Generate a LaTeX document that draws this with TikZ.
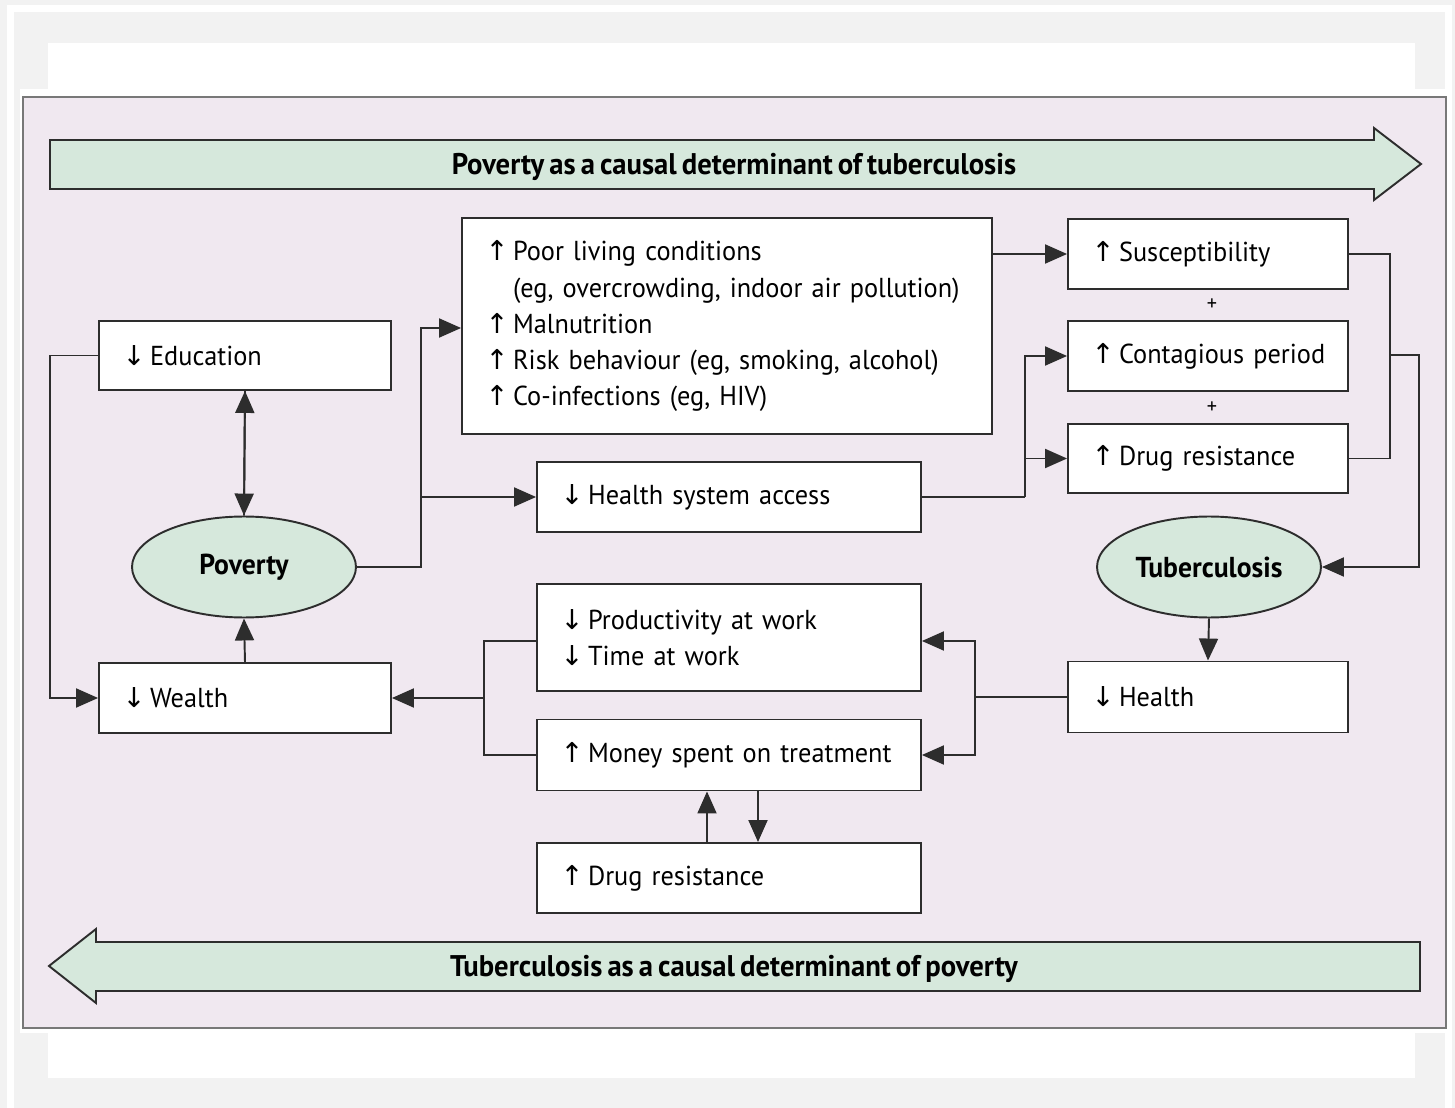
\documentclass[tikz,border=0pt]{standalone}
\usepackage{fontspec}
\setmainfont{PT Sans}[WordSpace=0.7, FakeStretch=0.96]
\newfontfamily\arrowfont{DejaVu Sans}
\usetikzlibrary{arrows.meta, shapes.geometric}
\definecolor{panelpink}{RGB}{240,232,240}
\definecolor{bannergreen}{RGB}{214,232,220}
\definecolor{pagegray}{RGB}{242,242,242}
\definecolor{linegray}{RGB}{45,45,45}
\definecolor{panelborder}{RGB}{120,120,120}
\newcommand{\uparr}{{\arrowfont\char"2191}\,}
\newcommand{\dnarr}{{\arrowfont\char"2193}\,}
\tikzset{
	box/.style={
		draw=linegray,
		fill=white,
		line width=1.1pt,
		align=left,
		inner xsep=0.46cm,
		inner ysep=0pt,
		font=\fontsize{15.6}{20.5}\selectfont
	},
	oval/.style={
		draw=linegray,
		fill=bannergreen,
		ellipse,
		line width=1.1pt,
		inner sep=0pt,
		minimum width=4.48cm,
		minimum height=2.02cm,
		font=\fontsize{16.4}{20}\selectfont\bfseries
	},
	banner/.style={draw=linegray, fill=bannergreen, line width=1.1pt},
	edge/.style={-{Triangle[length=0.44cm,width=0.38cm]}, draw=linegray, line width=1.1pt},
	link/.style={draw=linegray, line width=1.1pt}
}

\begin{document}
\begin{tikzpicture}[x=0.02cm, y=-0.02cm]
	% page background
	\fill[pagegray] (0,0) rectangle (1455,1108);
	\fill[white] (7,5) rectangle (1452,1108);
	\fill[pagegray] (14,12) rectangle (1445,1108);
	\fill[white] (48,43) rectangle (1415,1078);
	\fill[white] (20,89) rectangle (1445,1033);
	\filldraw[fill=panelpink, draw=panelborder, line width=1pt] (23,97) rectangle (1446,1028);
	
	% banners
	\filldraw[banner] (50,140) -- (1374,140) -- (1374,128) -- (1421,164) -- (1374,200) -- (1374,189) -- (50,189) -- cycle;
	\node(top_txt) at (734,167) [font=\fontsize{17}{20}\selectfont\bfseries] {Poverty as a causal determinant of tuberculosis};
	\filldraw[banner] (1420,942) -- (96,942) -- (96,929) -- (49,966) -- (96,1003) -- (96,991) -- (1420,991) -- cycle;
	\node(bottom_txt) at (734,969) [font=\fontsize{17}{20}\selectfont\bfseries] {Tuberculosis as a causal determinant of poverty};
	
	% left column
	\node(edu) at (245,355.5) [box, minimum width=5.84cm, minimum height=1.38cm, text width=4.9cm] {\dnarr Education};
	\node(pov) at (244,567) [oval] {Poverty};
	\node(wealth) at (245,698) [box, minimum width=5.84cm, minimum height=1.4cm, text width=4.9cm] {\dnarr Wealth};
	
	% middle column
	\node(living) at (727,326) [box, minimum width=10.6cm, minimum height=4.32cm, text width=9.66cm] {\mbox{\uparr Poor living conditions}\\ \mbox{\phantom{\uparr}(eg, overcrowding, indoor air pollution)}\\ \mbox{\uparr Malnutrition}\\ \mbox{\uparr Risk behaviour (eg, smoking, alcohol)}\\ \mbox{\uparr Co-infections (eg, HIV)}};
	\node(access) at (729,497) [box, minimum width=7.68cm, minimum height=1.4cm, text width=6.74cm] {\mbox{\dnarr Health system access}};
	\node(work) at (729,637.5) [box, minimum width=7.68cm, minimum height=2.14cm, text width=6.74cm] {\mbox{\dnarr Productivity at work}\\ \mbox{\dnarr Time at work}};
	\node(money) at (729,755) [box, minimum width=7.68cm, minimum height=1.42cm, text width=6.74cm] {\mbox{\uparr Money spent on treatment}};
	\node(drug_low) at (729,878) [box, minimum width=7.68cm, minimum height=1.4cm, text width=6.74cm] {\mbox{\uparr Drug resistance}};
	
	% right column
	\node(suscept) at (1208,254) [box, minimum width=5.6cm, minimum height=1.4cm, text width=4.66cm] {\mbox{\uparr Susceptibility}};
	\node(plus1) at (1212,305) [font=\fontsize{12}{14}\selectfont] {+};
	\node(contag) at (1208,356) [box, minimum width=5.6cm, minimum height=1.4cm, text width=4.66cm] {\mbox{\uparr Contagious period}};
	\node(plus2) at (1212,408) [font=\fontsize{12}{14}\selectfont] {+};
	\node(drug_up) at (1208,458.5) [box, minimum width=5.6cm, minimum height=1.38cm, text width=4.66cm] {\mbox{\uparr Drug resistance}};
	\node(tb) at (1209,567) [oval] {Tuberculosis};
	\node(health) at (1208,697) [box, minimum width=5.6cm, minimum height=1.42cm, text width=4.66cm] {\dnarr Health};
	
	% junctions
	\coordinate(j_loop) at (50,355.5);
	\coordinate(j_pov) at (421,497);
	\coordinate(j_access) at (1025,497);
	\coordinate(j_sum) at (1390,355);
	\coordinate(j_tb) at (1419,355);
	\coordinate(j_health) at (975,697);
	\coordinate(j_wealth) at (484,698);
	
	% poverty -> tuberculosis
	\draw[edge] (edu.south) -- (pov.north);
	\draw[edge] (pov.north) -- (edu.south);
	\draw[edge] (wealth.north) -- (pov.south);
	\draw[edge] (edu.west) -- (j_loop) |- (wealth.west);
	\draw[edge] (pov.east) -| (j_pov) |- ([yshift=-0.04cm]living.west);
	\draw[edge] (j_pov) -- (access.west);
	\draw[edge] (living.east |- suscept.west) -- (suscept.west);
	\draw[link] (access.east) -- (j_access);
	\draw[edge] (j_access) |- (contag.west);
	\draw[edge] (j_access) |- (drug_up.west);
	\draw[link] (suscept.east) -| (j_sum) |- (drug_up.east);
	\draw[edge] (j_sum) -- (j_tb) |- (tb.east);
	
	% tuberculosis -> poverty
	\draw[edge] (tb.south) -- (health.north);
	\draw[link] (health.west) -- (j_health);
	\draw[edge] (j_health) |- ([yshift=-0.07cm]work.east);
	\draw[edge] (j_health) |- (money.east);
	\draw[link] ([yshift=-0.07cm]work.west) -| (j_wealth) |- (money.west);
	\draw[edge] (j_wealth) -- (wealth.east);
	\draw[edge] ([xshift=-0.44cm]drug_low.north) -- ([xshift=-0.44cm]money.south);
	\draw[edge] ([xshift=0.58cm]money.south) -- ([xshift=0.58cm]drug_low.north);
\end{tikzpicture}
\end{document}
